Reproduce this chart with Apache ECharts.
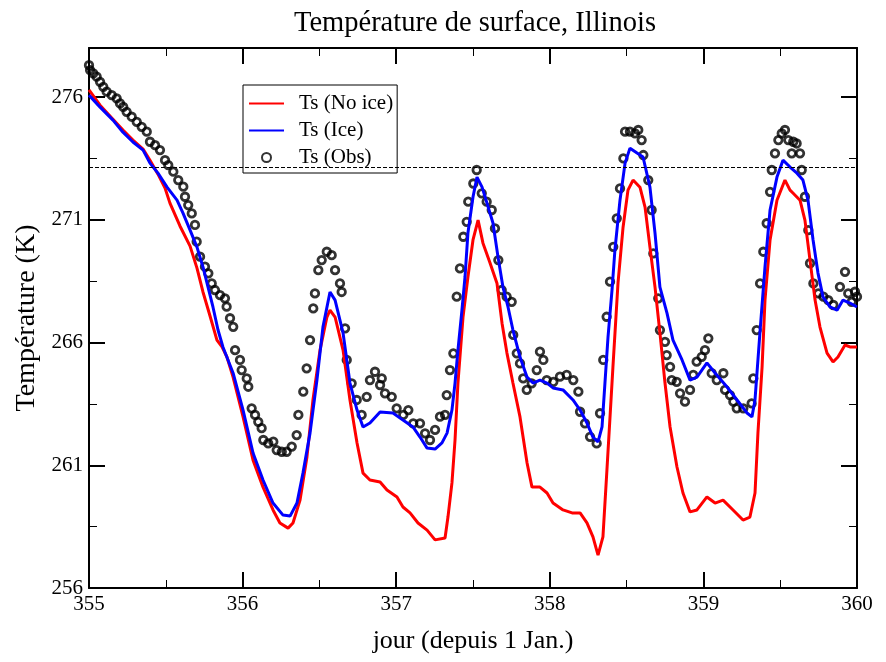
<!DOCTYPE html>
<html><head><meta charset="utf-8">
<script src="https://cdn.jsdelivr.net/npm/echarts@6.0.0/dist/echarts.min.js"></script>
<style>html,body{margin:0;padding:0;background:#fff}#chart{width:886px;height:662px}</style>
</head><body><div id="chart"></div>
<script>
// --- Data (day of year, temperature in K) ---
const noIceDays = [355.0,355.072,355.156,355.221,355.286,355.352,355.397,355.449,355.495,355.527,355.592,355.658,355.703,355.742,355.788,355.833,355.866,355.898,355.938,356.003,356.068,356.133,356.198,356.243,356.296,356.328,356.374,356.419,356.458,356.504,356.549,356.569,356.602,356.654,356.699,356.745,356.784,356.829,356.895,356.940,357.005,357.044,357.090,357.142,357.201,357.253,357.318,357.337,357.363,357.383,357.402,357.435,357.467,357.500,357.533,357.565,357.611,357.656,357.689,357.721,357.760,357.806,357.852,357.884,357.936,357.982,358.021,358.086,358.145,358.197,358.242,358.281,358.314,358.346,358.372,358.411,358.444,358.477,358.509,358.542,358.587,358.620,358.652,358.685,358.717,358.750,358.783,358.828,358.867,358.913,358.958,359.023,359.076,359.128,359.193,359.258,359.303,359.336,359.355,359.382,359.401,359.434,359.479,359.531,359.564,359.583,359.629,359.661,359.694,359.727,359.759,359.805,359.844,359.876,359.922,359.954,360.0];
const noIceTemps = [276.29,275.67,275.10,274.66,274.25,273.88,273.43,272.86,272.29,271.68,270.75,269.93,269.03,268.06,267.08,266.10,265.82,265.41,264.59,262.97,261.21,260.11,259.18,258.65,258.44,258.65,259.58,261.34,263.66,265.69,267.04,267.32,267.04,265.69,263.66,261.91,260.68,260.40,260.32,259.99,259.71,259.30,259.06,258.65,258.36,257.96,258.04,258.89,260.28,262.03,264.35,267.04,268.67,270.18,270.99,270.05,269.24,268.42,266.79,265.57,264.35,262.97,261.09,260.11,260.11,259.87,259.46,259.18,259.06,259.06,258.65,258.08,257.34,258.08,260.81,265.00,268.42,270.70,272.21,272.62,272.33,271.52,269.89,268.26,266.39,264.35,262.56,260.93,259.87,259.10,259.18,259.71,259.46,259.58,259.18,258.77,258.89,259.87,262.31,265.00,267.73,270.18,271.80,272.62,272.21,272.09,271.80,270.99,269.36,267.73,266.63,265.57,265.21,265.41,265.90,265.82,265.82];

const iceDays = [355.0,355.072,355.156,355.221,355.286,355.352,355.397,355.449,355.508,355.573,355.612,355.658,355.703,355.742,355.775,355.807,355.840,355.872,355.938,356.003,356.068,356.133,356.198,356.263,356.309,356.354,356.393,356.439,356.484,356.523,356.569,356.602,356.654,356.699,356.745,356.784,356.829,356.895,356.979,357.044,357.109,357.155,357.201,357.253,357.298,357.331,357.363,357.383,357.402,357.428,357.448,357.467,357.500,357.526,357.559,357.591,357.630,357.663,357.695,357.728,357.760,357.806,357.852,357.891,357.936,357.982,358.021,358.086,358.151,358.197,358.242,358.281,358.314,358.340,358.359,358.379,358.405,358.424,358.457,358.490,358.522,358.568,358.607,358.652,358.685,358.717,358.763,358.802,358.861,358.913,358.958,359.023,359.076,359.154,359.219,359.284,359.316,359.336,359.368,359.401,359.434,359.479,359.518,359.564,359.609,359.648,359.681,359.714,359.746,359.779,359.824,359.870,359.909,359.954,360.0];
const iceTemps = [276.08,275.59,275.06,274.57,274.17,273.84,273.31,272.90,272.33,271.80,271.27,270.58,269.89,269.08,268.26,267.45,266.51,265.82,264.76,263.25,261.50,260.40,259.46,258.97,258.93,259.46,260.68,262.31,264.47,266.63,268.06,267.73,266.39,264.35,263.25,262.56,262.72,263.17,263.13,262.84,262.56,262.15,261.70,261.66,261.91,262.31,263.25,264.35,265.69,267.32,268.67,270.46,271.93,272.74,272.33,271.68,270.87,269.48,268.26,267.45,266.51,265.41,264.59,264.35,264.47,264.35,264.15,264.07,263.66,263.25,262.72,262.15,261.95,262.56,264.35,266.22,268.14,269.77,271.80,273.31,273.92,273.72,273.56,272.33,270.46,268.26,267.20,266.10,265.29,264.47,264.59,265.17,264.76,264.19,263.66,263.13,262.97,263.66,266.39,269.08,271.40,272.74,273.43,273.15,272.90,272.62,271.80,270.18,268.83,267.85,267.45,267.32,267.73,267.61,267.45];

const obsDays = [355.000,355.007,355.028,355.050,355.072,355.093,355.115,355.148,355.180,355.202,355.223,355.245,355.278,355.311,355.343,355.376,355.397,355.430,355.462,355.495,355.516,355.549,355.581,355.614,355.625,355.646,355.669,355.690,355.701,355.723,355.755,355.777,355.799,355.820,355.853,355.885,355.896,355.918,355.939,355.951,355.983,355.994,356.027,356.037,356.059,356.081,356.102,356.124,356.135,356.167,356.200,356.222,356.255,356.287,356.320,356.352,356.363,356.395,356.417,356.439,356.460,356.471,356.493,356.515,356.548,356.580,356.602,356.634,356.645,356.667,356.678,356.710,356.743,356.775,356.808,356.829,356.862,356.895,356.906,356.927,356.971,357.003,357.046,357.079,357.111,357.155,357.188,357.220,357.253,357.285,357.318,357.329,357.350,357.372,357.394,357.415,357.437,357.459,357.469,357.502,357.524,357.557,357.589,357.622,357.643,357.665,357.687,357.719,357.752,357.762,357.785,357.806,357.827,357.850,357.882,357.915,357.936,357.958,357.980,358.023,358.066,358.110,358.153,358.186,358.197,358.229,358.262,358.305,358.327,358.348,358.370,358.392,358.413,358.436,358.457,358.479,358.490,358.522,358.555,358.576,358.598,358.609,358.641,358.663,358.674,358.706,358.717,358.750,358.761,358.783,358.794,358.826,358.848,358.880,358.913,358.934,358.956,358.989,359.010,359.032,359.054,359.087,359.130,359.141,359.173,359.195,359.217,359.260,359.314,359.325,359.347,359.369,359.390,359.412,359.434,359.445,359.466,359.488,359.510,359.531,359.553,359.575,359.585,359.607,359.629,359.640,359.661,359.683,359.694,359.716,359.748,359.781,359.813,359.846,359.889,359.922,359.943,359.965,359.987,360.000];
const obsTemps = [277.30,277.10,276.97,276.83,276.62,276.42,276.22,276.08,275.95,275.74,275.60,275.40,275.20,274.99,274.79,274.59,274.18,274.04,273.84,273.43,273.23,272.96,272.62,272.35,271.94,271.60,271.26,270.79,270.11,269.50,269.09,268.82,268.41,268.14,267.93,267.80,267.46,266.99,266.64,265.69,265.29,264.88,264.54,264.20,263.32,263.05,262.77,262.51,262.03,261.89,261.96,261.62,261.55,261.55,261.76,262.23,263.05,264.00,264.95,266.10,267.39,268.00,268.95,269.36,269.70,269.56,268.95,268.41,268.06,266.58,265.29,264.34,263.66,263.05,263.79,264.47,264.81,264.27,264.54,263.93,263.79,263.32,263.05,263.25,262.71,262.71,262.30,262.03,262.44,262.98,263.05,263.86,264.88,265.56,267.87,269.02,270.31,270.92,271.74,272.48,273.03,272.08,271.74,271.40,270.65,269.36,268.14,267.87,267.66,266.31,265.56,265.15,264.54,264.07,264.34,264.88,265.63,265.29,264.47,264.40,264.61,264.68,264.47,264.00,263.18,262.71,262.16,261.89,263.12,265.29,267.05,268.48,269.90,271.06,272.28,273.50,274.59,274.59,274.52,274.66,274.25,273.64,272.62,271.40,269.63,267.80,266.51,266.03,265.49,265.01,264.47,264.40,263.93,263.59,264.07,264.68,265.22,265.42,265.69,266.17,264.75,264.47,264.75,264.07,263.86,263.59,263.32,263.32,263.52,264.54,266.51,268.41,269.70,270.86,272.14,273.03,273.71,274.25,274.52,274.66,274.25,273.71,274.18,274.11,273.71,273.03,271.94,270.58,269.23,268.41,268.00,267.87,267.73,267.53,268.27,268.88,268.00,267.66,268.07,267.87];

const freezingPoint = 273.15;
const xRange = [355, 360];
const xMajorTicks = [355, 356, 357, 358, 359, 360];
const xMinorTicks = [355.5, 356.5, 357.5, 358.5, 359.5];
const yRange = [256, 278];
const yMajorTicks = [256, 261, 266, 271, 276];
const yMinorTicks = [258.5, 263.5, 268.5, 273.5];

const FONT = '"Liberation Serif", "Times New Roman", serif';
const zip = (a, b) => a.map((v, i) => [v, b[i]]);

function makeAxis(range, position, ticks, tickLen, tickWidth, showLine, labelOpt, extra) {
  return Object.assign({
    type: 'value', position: position, min: range[0], max: range[1],
    axisLine: {show: showLine, onZero: false, lineStyle: {color: '#000', width: 2}},
    axisTick: {show: true, inside: true, length: tickLen, customValues: ticks, lineStyle: {color: '#000', width: tickWidth}},
    minorTick: {show: false},
    splitLine: {show: false},
    axisLabel: labelOpt ? Object.assign({show: true, customValues: ticks, color: '#000', fontFamily: FONT, fontSize: 21}, labelOpt) : {show: false}
  }, extra || {});
}

const xName = {name: 'jour (depuis 1 Jan.)', nameLocation: 'middle', nameGap: 40,
  nameTextStyle: {fontFamily: FONT, fontSize: 26, color: '#000'}};
const yName = {name: 'Température (K)', nameLocation: 'middle', nameGap: 38, nameRotate: 90,
  nameTextStyle: {fontFamily: FONT, fontSize: 28, color: '#000'}};

const chart = echarts.init(document.getElementById('chart'), null, {renderer: 'canvas'});
chart.setOption({
  animation: false,
  backgroundColor: '#fff',
  title: {
    text: 'Température de surface, Illinois',
    left: 470, top: 4, textAlign: 'center',
    textStyle: {fontFamily: FONT, fontSize: 28.5, fontWeight: 'normal', color: '#000'}
  },
  grid: {left: 89, right: 29, top: 48, bottom: 74, containLabel: false},
  legend: {
    orient: 'vertical', left: 243, top: 85,
    backgroundColor: '#fff', borderColor: '#000', borderWidth: 1,
    padding: [8, 4, 5, 5], itemGap: 6, itemWidth: 35, itemHeight: 9,
    textStyle: {fontFamily: FONT, fontSize: 21, color: '#000', padding: [0, 0, 0, 10]},
    data: [
      {name: 'Ts (No ice)', itemStyle: {color: 'rgba(0,0,0,0)', borderWidth: 0, opacity: 0}},
      {name: 'Ts (Ice)', itemStyle: {color: 'rgba(0,0,0,0)', borderWidth: 0, opacity: 0}},
      {name: 'Ts (Obs)'}
    ]
  },
  xAxis: [
    makeAxis(xRange, 'bottom', xMajorTicks, 16, 2, true, {margin: 6}, xName),
    makeAxis(xRange, 'bottom', xMinorTicks, 8, 1, false, null),
    makeAxis(xRange, 'top', xMajorTicks, 16, 2, true, null),
    makeAxis(xRange, 'top', xMinorTicks, 8, 1, false, null)
  ],
  yAxis: [
    makeAxis(yRange, 'left', yMajorTicks, 16, 2, true, {margin: 6, padding: [6, 0, 0, 0]}, yName),
    makeAxis(yRange, 'left', yMinorTicks, 8, 1, false, null),
    makeAxis(yRange, 'right', yMajorTicks, 16, 2, true, null),
    makeAxis(yRange, 'right', yMinorTicks, 8, 1, false, null)
  ],
  series: [
    {
      name: 'Ts (No ice)', type: 'line', xAxisIndex: 0, yAxisIndex: 0,
      data: zip(noIceDays, noIceTemps), symbol: 'none', showSymbol: false,
      lineStyle: {color: '#ff0000', width: 3}, itemStyle: {color: '#ff0000'},
      markLine: {
        silent: true, symbol: 'none', label: {show: false},
        lineStyle: {color: '#000', width: 1, type: [4, 2]},
        data: [{yAxis: freezingPoint}]
      }
    },
    {
      name: 'Ts (Ice)', type: 'line', xAxisIndex: 0, yAxisIndex: 0,
      data: zip(iceDays, iceTemps), symbol: 'none', showSymbol: false,
      lineStyle: {color: '#0000ff', width: 3}, itemStyle: {color: '#0000ff'}
    },
    {
      name: 'Ts (Obs)', type: 'scatter', xAxisIndex: 0, yAxisIndex: 0,
      data: zip(obsDays, obsTemps), symbol: 'circle', symbolSize: 7.5,
      itemStyle: {color: 'rgba(255,255,255,0)', borderColor: '#000', borderWidth: 2.8}
    }
  ]
});
</script>
</body></html>
